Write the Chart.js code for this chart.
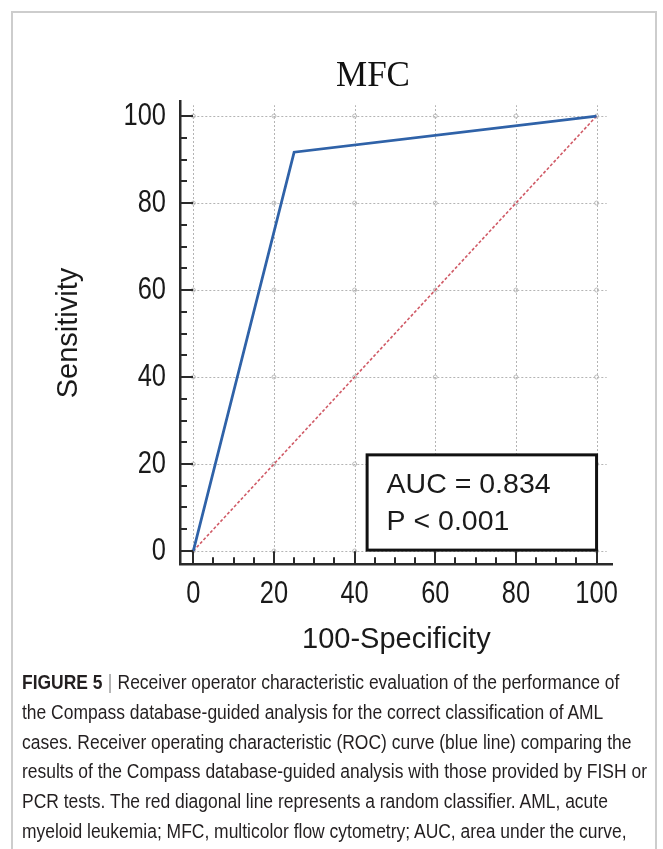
<!DOCTYPE html>
<html>
<head>
<meta charset="utf-8">
<script src="https://cdn.jsdelivr.net/npm/chart.js@4.4.1/dist/chart.umd.min.js"></script>
<style>
  html, body { margin: 0; padding: 0; background: #fff; }
  body { width: 663px; height: 849px; position: relative; overflow: hidden; }
  #frame { position: absolute; left: 11px; top: 11px; width: 642px; height: 900px; border: 2px solid #cdcdcd; }
  #wrap { position: absolute; left: 0; top: 0; width: 663px; height: 680px; }
  #caption {
    position: absolute; left: 22px; top: 668px; white-space: nowrap;
    font-family: 'Liberation Sans', Arial, sans-serif;
    font-size: 20px; line-height: 29.8px; color: #231f20;
    transform: scaleX(0.873); transform-origin: 0 0;
  }
  #caption b { font-weight: bold; }
  #caption .sep { color: #9a9a9a; margin: 0 6px; }
</style>
</head>
<body>
<div id="frame"></div>
<div id="wrap"><canvas id="chart" width="663" height="680"></canvas></div>
<div id="caption">
  <b>FIGURE 5</b><span class="sep">|</span>Receiver operator characteristic evaluation of the performance of<br>
  the Compass database-guided analysis for the correct classification of AML<br>
  cases. Receiver operating characteristic (ROC) curve (blue line) comparing the<br>
  results of the Compass database-guided analysis with those provided by FISH or<br>
  PCR tests. The red diagonal line represents a random classifier. AML, acute<br>
  myeloid leukemia; MFC, multicolor flow cytometry; AUC, area under the curve,
</div>
<script>
const xTicks = [0, 20, 40, 60, 80, 100];
const yTicks = [0, 20, 40, 60, 80, 100];
// ROC curve (100-specificity, sensitivity)
const rocX = [0, 25, 100];
const rocY = [0, 91.7, 100];
// random classifier
const diagX = [0, 100];
const diagY = [0, 100];
const boxLines = ['AUC = 0.834', 'P < 0.001'];

const LABEL_FONT = "'Liberation Sans', Arial, sans-serif";
const NARROW = 0.82; // tick labels are a condensed face in the original

const toPoints = (xs, ys) => xs.map((x, i) => ({ x, y: ys[i] }));

function seg(ctx, x1, y1, x2, y2) {
  ctx.beginPath(); ctx.moveTo(x1, y1); ctx.lineTo(x2, y2); ctx.stroke();
}

function narrowText(ctx, text, x, y, align) {
  ctx.save();
  ctx.translate(x, y);
  ctx.scale(NARROW, 1);
  ctx.textAlign = align;
  ctx.fillText(text, 0, 0);
  ctx.restore();
}

const decor = {
  id: 'decor',
  beforeDatasetsDraw(chart) {
    const { ctx, scales: { x, y } } = chart;
    const gx0 = x.getPixelForValue(0), gx1 = x.getPixelForValue(102.5);
    const gy0 = y.getPixelForValue(0), gy1 = y.getPixelForValue(102.5);
    ctx.save();
    ctx.strokeStyle = '#b4b4b4';
    ctx.lineWidth = 1;
    ctx.setLineDash([2, 2]);
    xTicks.forEach(v => {
      const p = Math.round(x.getPixelForValue(v)) + 0.5;
      seg(ctx, p, gy0, p, gy1);
    });
    yTicks.forEach(v => {
      const p = Math.round(y.getPixelForValue(v)) + 0.5;
      seg(ctx, gx0, p, gx1, p);
    });
    ctx.setLineDash([]);
    ctx.strokeStyle = '#bdbdbd';
    xTicks.forEach(vx => yTicks.forEach(vy => {
      ctx.beginPath();
      ctx.arc(x.getPixelForValue(vx), y.getPixelForValue(vy), 2, 0, Math.PI * 2);
      ctx.stroke();
    }));
    ctx.restore();
  },
  afterDatasetsDraw(chart) {
    const { ctx, chartArea: a, scales: { x, y } } = chart;
    ctx.save();
    // inward ticks
    ctx.strokeStyle = '#2a2a2a';
    ctx.lineWidth = 2;
    for (let v = 0; v <= 100; v += 5) {
      const len = v % 20 === 0 ? 13 : 7;
      const px = Math.round(x.getPixelForValue(v));
      seg(ctx, px, a.bottom, px, a.bottom - len);
      const py = Math.round(y.getPixelForValue(v));
      seg(ctx, a.left, py, a.left + len, py);
    }
    // tick labels
    ctx.fillStyle = '#1a1a1a';
    ctx.font = "31px " + LABEL_FONT;
    ctx.textBaseline = 'alphabetic';
    x.ticks.forEach(t => narrowText(ctx, String(t.value), x.getPixelForValue(t.value), a.bottom + 39, 'center'));
    y.ticks.forEach(t => narrowText(ctx, String(t.value), a.left - 14, y.getPixelForValue(t.value) + 9, 'right'));
    // AUC box
    const bl = x.getPixelForValue(43.1), br = x.getPixelForValue(100);
    const bt = y.getPixelForValue(22.1), bb = y.getPixelForValue(0.2);
    ctx.fillStyle = '#fff';
    ctx.fillRect(bl, bt, br - bl, bb - bt);
    ctx.strokeStyle = '#111';
    ctx.lineWidth = 3;
    ctx.strokeRect(bl, bt, br - bl, bb - bt);
    ctx.fillStyle = '#1a1a1a';
    ctx.font = "28.5px " + LABEL_FONT;
    ctx.textAlign = 'left';
    boxLines.forEach((t, i) => ctx.fillText(t, bl + 19.5, bt + 38.5 + i * 36.7));
    ctx.restore();
  },
  afterDraw(chart) {
    const { ctx } = chart;
    ctx.save();
    ctx.fillStyle = '#111';
    ctx.font = "35px 'Liberation Serif', 'Times New Roman', serif";
    ctx.textAlign = 'center';
    ctx.textBaseline = 'alphabetic';
    ctx.fillText('MFC', 373, 86);
    ctx.restore();
  }
};

new Chart(document.getElementById('chart'), {
  type: 'scatter',
  data: {
    datasets: [
      {
        label: 'ROC',
        data: toPoints(rocX, rocY),
        showLine: true,
        borderColor: '#2f62a8',
        borderWidth: 2.8,
        pointRadius: 0,
        tension: 0,
      },
      {
        label: 'Random',
        data: toPoints(diagX, diagY),
        showLine: true,
        borderColor: '#d05a66',
        borderWidth: 1.6,
        borderDash: [3, 2],
        pointRadius: 0,
      }
    ]
  },
  options: {
    responsive: false,
    animation: false,
    layout: { padding: { left: 0, top: 101.7, right: 50.3, bottom: 15.7 } },
    scales: {
      x: {
        type: 'linear', min: -3.3, max: 104,
        afterBuildTicks: s => { s.ticks = xTicks.map(v => ({ value: v })); },
        afterFit: s => { s.height = 100; },
        grid: { display: false, drawTicks: false },
        border: { display: true, color: '#2a2a2a', width: 2.5 },
        ticks: { display: false },
        title: { display: true, text: '100-Specificity', color: '#1a1a1a',
                 font: { family: LABEL_FONT, size: 29 }, padding: { top: 0, bottom: 7 } }
      },
      y: {
        type: 'linear', min: -3.06, max: 103.3,
        afterBuildTicks: s => { s.ticks = yTicks.map(v => ({ value: v })); },
        afterFit: s => { s.width = 180; },
        grid: { display: false, drawTicks: false },
        border: { display: true, color: '#2a2a2a', width: 2.5 },
        ticks: { display: false },
        title: { display: true, text: 'Sensitivity', color: '#1a1a1a',
                 font: { family: LABEL_FONT, size: 29 }, padding: { top: 51.6, bottom: 0 } }
      }
    },
    plugins: { legend: { display: false }, tooltip: { enabled: false } }
  },
  plugins: [decor]
});
</script>
</body>
</html>
